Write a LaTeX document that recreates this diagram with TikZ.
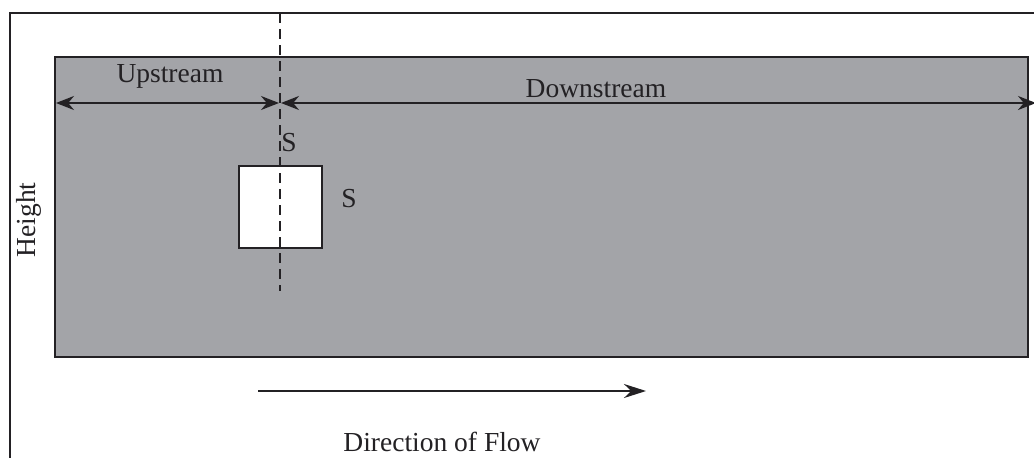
\documentclass[tikz,border=0pt]{standalone}
\usepackage{fontspec}
\setmainfont{Liberation Serif}
\usetikzlibrary{arrows.meta}
\definecolor{domain}{RGB}{163,164,168}
\definecolor{ink}{RGB}{35,33,36}
\tikzset{
  lbl/.style={font=\fontsize{27.5}{30}\selectfont, text=ink, inner sep=0pt},
  dim/.style={draw=ink, line width=1.8pt, {Stealth[length=18pt,width=14pt]}-{Stealth[length=18pt,width=14pt]}},
  flow/.style={draw=ink, line width=1.8pt, -{Stealth[length=22pt,width=14pt]}},
}
\begin{document}
\begin{tikzpicture}[x=1pt,y=-1pt]
\useasboundingbox (0,0) rectangle (1034,458);
\clip (0,0) rectangle (1034,458);
\fill[white] (0,0) rectangle (1034,458);
% outer frame (runs past the right and bottom edges)
\draw[ink, line width=2.2pt] (10,470) -- (10,13) -- (1050,13);
% flow domain
\draw[ink, fill=domain, line width=1.6pt] (55,57) rectangle (1028,357);
% obstacle
\node[draw=ink, fill=white, line width=1.6pt, minimum width=83pt, minimum height=82pt, inner sep=0pt] (obst) at (280.5,207) {};
% centre line through the obstacle
\coordinate (ctop) at (280,13);
\coordinate (cbot) at (280,291);
\draw[ink, line width=1.8pt, dash pattern=on 10pt off 6pt] (ctop) -- (cbot);
% upstream / downstream extents
\coordinate (uL) at (56,103);
\coordinate (uR) at (279,103);
\coordinate (dL) at (281,103);
\coordinate (dR) at (1036,103);
\draw[dim] (uL) -- (uR);
\draw[dim] (dL) -- (dR);
\node[lbl] (up) at (170,76) {Upstream};
\node[lbl] (down) at (596,89) {Downstream};
% size labels
\node[lbl] (s1) at (289,143) {S};
\node[lbl] (s2) at (349,199) {S};
\node[lbl, rotate=90] (h) at (29,220) {Height};
% flow direction
\coordinate (fA) at (258,391);
\coordinate (fB) at (646,391);
\draw[flow] (fA) -- (fB);
\node[lbl] (dof) at (442,442) {Direction of Flow};
\end{tikzpicture}
\end{document}
